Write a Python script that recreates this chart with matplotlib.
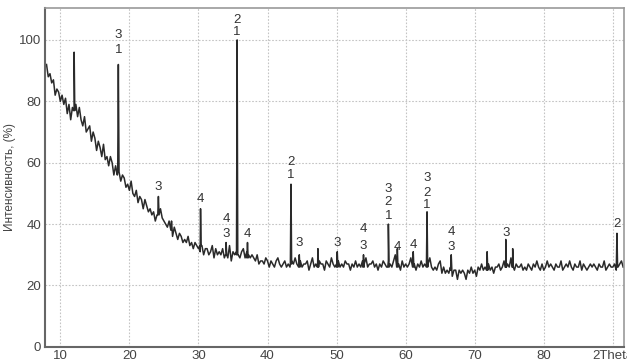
import numpy as np
import matplotlib
matplotlib.use("Agg")
import matplotlib.pyplot as plt

# ---- data ----
grid_start, grid_step = 8.0, 0.25
intensity = [
    92, 88, 89, 86, 87, 82, 84, 83, 80, 82, 79, 81, 76, 79, 74, 78, 77, 79, 75, 78,
    74, 72, 75, 70, 71, 72, 67, 70, 68, 64, 67, 65, 62, 66, 61, 62, 59, 62, 60, 56,
    59, 56, 57, 54, 56, 55, 52, 53, 51, 54, 50, 49, 51, 47, 49, 48, 45, 48, 46, 44,
    45, 43, 44, 41, 43, 46, 45, 42, 41, 40, 39, 41, 38, 36, 39, 37, 35, 37, 36, 34,
    35, 34, 36, 33, 34, 32, 34, 33, 32, 31, 33, 30, 32, 32, 30, 31, 33, 29, 32, 30,
    31, 30, 32, 29, 30, 29, 33, 28, 31, 30, 31, 30, 29, 31, 32, 29, 31, 30, 29, 30,
    29, 28, 30, 27, 28, 28, 27, 29, 28, 26, 28, 27, 26, 28, 29, 27, 26, 27, 28, 26,
    27, 26, 28, 27, 29, 27, 26, 28, 26, 27, 27, 28, 25, 27, 29, 26, 27, 26, 28, 27,
    27, 25, 28, 27, 26, 29, 27, 26, 27, 28, 26, 27, 26, 28, 27, 27, 25, 27, 26, 28,
    26, 27, 26, 28, 27, 29, 26, 27, 27, 28, 26, 27, 25, 27, 26, 28, 27, 26, 28, 27,
    26, 28, 30, 27, 27, 25, 28, 26, 27, 26, 27, 29, 26, 27, 25, 27, 26, 28, 26, 27,
    26, 27, 29, 26, 25, 26, 25, 27, 28, 24, 26, 24, 25, 24, 26, 23, 25, 25, 22, 25,
    24, 25, 24, 22, 25, 24, 26, 24, 25, 23, 26, 25, 27, 25, 26, 25, 27, 25, 26, 24,
    26, 26, 27, 25, 26, 28, 26, 27, 26, 29, 26, 25, 27, 26, 26, 27, 25, 26, 25, 27,
    26, 25, 27, 26, 28, 26, 25, 27, 25, 26, 28, 26, 27, 26, 25, 27, 26, 26, 28, 25,
    26, 27, 26, 28, 26, 25, 27, 26, 26, 28, 25, 27, 26, 25, 26, 27, 26, 27, 26, 25,
    27, 26, 26, 28, 25, 26, 27, 26, 26, 27, 25, 26, 27, 28, 26,
]

peak_2theta = [12.0, 18.4, 24.2, 26.1, 30.3, 34.0, 35.6, 37.1, 43.4, 44.6, 47.3,
               50.1, 53.9, 57.5, 58.8, 61.1, 63.1, 66.6, 71.8, 74.5, 75.5, 90.6]
peak_top = [96, 92, 49, 41, 45, 34, 100, 34, 53, 30, 32,
            31, 30, 40, 32, 31, 44, 30, 31, 35, 32, 37]
peak_base = [77, 57, 43, 38, 33, 30, 30, 29, 27, 26, 26,
             26, 26, 26, 26, 26, 26, 25, 25, 26, 26, 26]

label_2theta = [18.4, 18.4, 35.6, 35.6, 24.2, 30.3, 34.0, 34.0, 37.1, 43.4, 43.4,
                44.6, 50.1, 53.9, 53.9, 57.5, 57.5, 57.5, 58.8, 61.1, 63.1, 63.1,
                63.1, 66.6, 66.6, 74.5, 90.6]
label_y = [101.6, 96.7, 106.5, 102.6, 52.1, 48.2, 41.7, 36.8, 36.8, 60.3, 56.0,
           33.9, 33.9, 38.4, 32.9, 51.5, 47.2, 42.7, 32.6, 33.2, 55.0, 50.2,
           46.3, 37.5, 32.6, 37.1, 40.1]
label_text = ["3", "1", "2", "1", "3", "4", "4", "3", "4", "2", "1",
              "3", "3", "4", "3", "3", "2", "1", "4", "4", "3", "2",
              "1", "4", "3", "3", "2"]

xtick_vals = [10, 20, 30, 40, 50, 60, 70, 80, 90]
xtick_labels = ["10", "20", "30", "40", "50", "60", "70", "80", "2Theta"]
ytick_vals = [0, 20, 40, 60, 80, 100]
ylabel = "Интенсивность, (%)"

# ---- assemble pattern ----
gx = grid_start + grid_step * np.arange(len(intensity))
px, py = [], []
for p, t, b in zip(peak_2theta, peak_top, peak_base):
    px += [p - 0.09, p, p + 0.09]
    py += [b, t, b]
allx = np.concatenate([gx, np.array(px)])
ally = np.concatenate([np.array(intensity, float), np.array(py, float)])
order = np.argsort(allx, kind="stable")
allx, ally = allx[order], ally[order]

plt.rcParams['font.family'] = ['Liberation Sans', 'DejaVu Sans']

fig = plt.figure(figsize=(6.27, 3.64), dpi=100)
ax = fig.add_axes([0.072, 0.047, 0.923, 0.931])

ax.plot(allx, ally, color="#2a2a2a", lw=1.1)

for x, y, t in zip(label_2theta, label_y, label_text):
    ax.text(x, y, t, ha="center", va="center", fontsize=9.5, color="#333333")

ax.set_xlim(7.8, 91.6)
ax.set_ylim(0, 110.4)
ax.set_xticks(xtick_vals)
ax.set_xticklabels(xtick_labels)
ax.set_yticks(ytick_vals)
ax.tick_params(axis="both", length=0, labelsize=9.5, labelcolor="#444444", pad=3)
ax.tick_params(axis="x", pad=2)

ax.grid(True, ls=(0, (1.5, 1.5)), color="#c4c4c4", lw=0.8)
ax.set_axisbelow(True)
for s in ["left", "bottom"]:
    ax.spines[s].set_color("#666666")
    ax.spines[s].set_linewidth(1.5)
for s in ["top", "right"]:
    ax.spines[s].set_color("#999999")
    ax.spines[s].set_linewidth(1.2)

ax.set_ylabel(ylabel, fontsize=8.5, color="#444444", labelpad=2)

fig.savefig("out.png", dpi=100)
